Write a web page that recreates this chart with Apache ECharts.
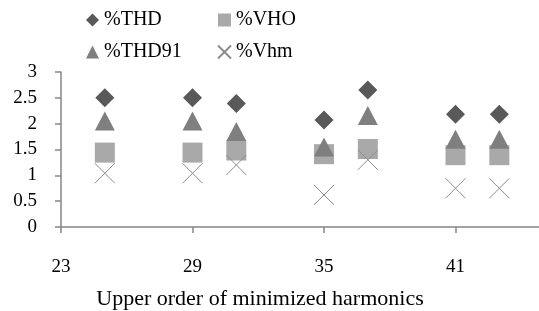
<!DOCTYPE html>
<html>
<head>
<meta charset="utf-8">
<script src="https://cdn.jsdelivr.net/npm/echarts@6/dist/echarts.min.js"></script>
<style>
  html, body { margin: 0; padding: 0; overflow: hidden; background: #fff; }
  #main { width: 600px; height: 311px; }
</style>
</head>
<body>
<div id="main"></div>
<script>
  // harmonic orders
  var orders = [25, 29, 31, 35, 37, 41, 43];
  var thd = [2.5, 2.5, 2.39, 2.07, 2.65, 2.18, 2.18];
  var vho = [1.44, 1.44, 1.48, 1.41, 1.51, 1.39, 1.39];
  var thd91 = [2.05, 2.05, 1.85, 1.55, 2.16, 1.7, 1.7];
  var vhm = [1.04, 1.04, 1.2, 0.62, 1.3, 0.75, 0.75];
  var xTicks = [23, 29, 35, 41, 47];
  var yTicks = [0, 0.5, 1, 1.5, 2, 2.5, 3];

  var crossPath = 'path://M0,0L10,10M10,0L0,10';
  var font = '"Liberation Serif", "Times New Roman", serif';

  function pairs(vals) {
    return orders.map(function (x, i) { return [x, vals[i]]; });
  }

  var myChart = echarts.init(document.getElementById('main'));
  myChart.setOption({
    animation: false,
    textStyle: { fontFamily: font },
    legend: [
      {
        orient: 'vertical', left: 81, top: 5, itemGap: 12,
        itemWidth: 13, itemHeight: 13,
        textStyle: { fontFamily: font, fontSize: 20, color: '#000' },
        data: [
          { name: '%THD', icon: 'diamond' },
          { name: '%THD91', icon: 'triangle' }
        ]
      },
      {
        orient: 'vertical', left: 212, top: 5, itemGap: 12,
        itemWidth: 13, itemHeight: 13,
        textStyle: { fontFamily: font, fontSize: 20, color: '#000' },
        data: [
          { name: '%VHO', icon: 'rect' },
          { name: '%Vhm', icon: crossPath }
        ]
      }
    ],
    grid: { left: 61, top: 72, right: 13, bottom: 84 },
    xAxis: {
      type: 'value',
      min: xTicks[0], max: xTicks[xTicks.length - 1], interval: 6,
      splitLine: { show: false },
      axisLine: { lineStyle: { color: '#868686', width: 1.5 } },
      axisTick: { length: 6, lineStyle: { color: '#868686', width: 1.5 } },
      axisLabel: { margin: 31, fontSize: 19, color: '#000', fontFamily: font },
      name: 'Upper order of minimized harmonics',
      nameLocation: 'middle',
      nameGap: 61,
      nameTextStyle: { fontSize: 22, color: '#000', fontFamily: font, padding: [0, 128, 0, 0] }
    },
    yAxis: {
      type: 'value',
      min: yTicks[0], max: yTicks[yTicks.length - 1], interval: 0.5,
      splitLine: { show: false },
      axisLine: { show: true, lineStyle: { color: '#868686', width: 1.5 } },
      axisTick: { show: true, length: 6, lineStyle: { color: '#868686', width: 1.5 } },
      axisLabel: { margin: 24, fontSize: 19, color: '#000', fontFamily: font }
    },
    series: [
      {
        name: '%THD', type: 'scatter', symbol: 'diamond', symbolSize: [19, 19],
        itemStyle: { color: '#595959', opacity: 1 },
        data: pairs(thd)
      },
      {
        name: '%VHO', type: 'scatter', symbol: 'rect', symbolSize: [20, 20],
        itemStyle: { color: '#a9a9a9', opacity: 1 },
        data: pairs(vho)
      },
      {
        name: '%THD91', type: 'scatter', symbol: 'triangle', symbolSize: [20, 19],
        itemStyle: { color: '#7f7f7f', opacity: 1 },
        data: pairs(thd91)
      },
      {
        name: '%Vhm', type: 'scatter', symbol: crossPath, symbolSize: [20, 20],
        itemStyle: { color: 'rgba(0,0,0,0)', borderColor: '#8c8c8c', borderWidth: 1, opacity: 1 },
        data: pairs(vhm)
      }
    ]
  });
</script>
</body>
</html>
